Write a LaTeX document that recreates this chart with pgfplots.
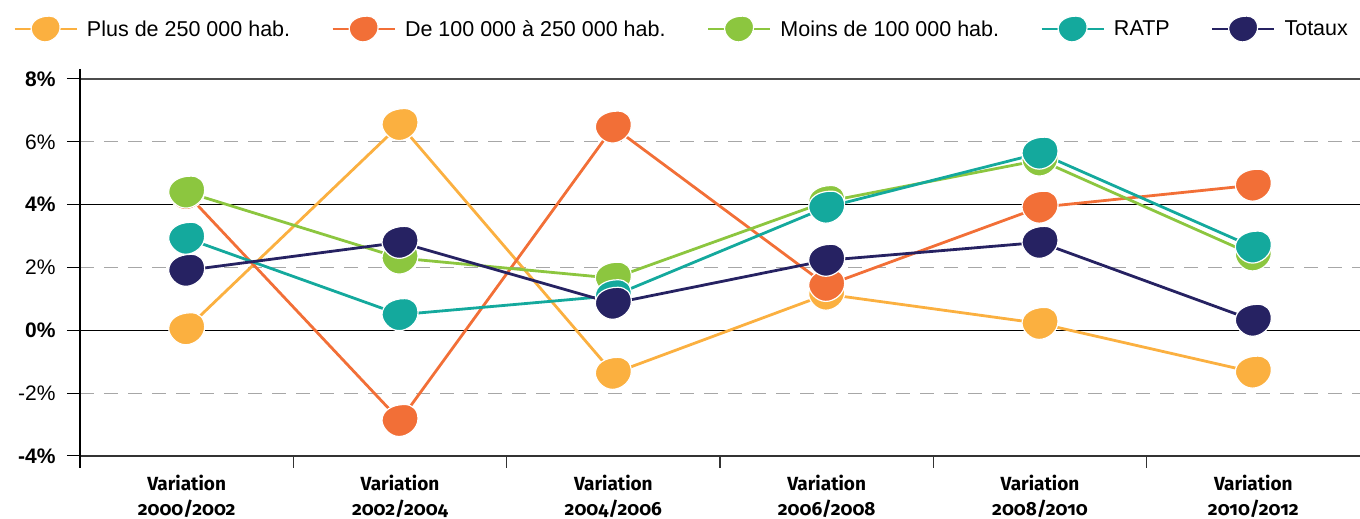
\documentclass[border=0pt]{standalone}
\usepackage{fontspec}
\setmainfont{Liberation Sans}
\newfontfamily\xfont{Fira Sans}[Numbers=OldStyle]
\usepackage{pgfplots}
\pgfplotsset{compat=1.18}

\definecolor{cyel}{HTML}{FBB040}
\definecolor{cora}{HTML}{F26F37}
\definecolor{cgre}{HTML}{8CC63F}
\definecolor{ctea}{HTML}{14A99D}
\definecolor{cnav}{HTML}{262262}
\definecolor{cgrid}{HTML}{A7A7A7}

\pgfdeclareplotmark{leaf}{%
  \pgfpathmoveto{\pgfqpoint{-1\pgfplotmarksize}{0\pgfplotmarksize}}%
  \pgfpathcurveto{\pgfqpoint{-1\pgfplotmarksize}{0.55\pgfplotmarksize}}{\pgfqpoint{-0.45\pgfplotmarksize}{0.89\pgfplotmarksize}}{\pgfqpoint{0.25\pgfplotmarksize}{0.89\pgfplotmarksize}}%
  \pgfpathcurveto{\pgfqpoint{0.7\pgfplotmarksize}{0.89\pgfplotmarksize}}{\pgfqpoint{1\pgfplotmarksize}{0.6\pgfplotmarksize}}{\pgfqpoint{1\pgfplotmarksize}{0.1\pgfplotmarksize}}%
  \pgfpathcurveto{\pgfqpoint{1\pgfplotmarksize}{-0.45\pgfplotmarksize}}{\pgfqpoint{0.45\pgfplotmarksize}{-0.89\pgfplotmarksize}}{\pgfqpoint{-0.05\pgfplotmarksize}{-0.89\pgfplotmarksize}}%
  \pgfpathcurveto{\pgfqpoint{-0.6\pgfplotmarksize}{-0.89\pgfplotmarksize}}{\pgfqpoint{-1\pgfplotmarksize}{-0.35\pgfplotmarksize}}{\pgfqpoint{-1\pgfplotmarksize}{0\pgfplotmarksize}}%
  \pgfpathclose
  \pgfusepathqfillstroke
}

\begin{document}
\begin{tikzpicture}
\begin{axis}[
  name=ax,
  scale only axis,
  width=1280pt, height=377pt,
  xmin=-0.5, xmax=5.5,
  ymin=-4, ymax=8,
  clip=false,
  axis line style={draw=none},
  xtick={0,...,5},
  xticklabels={{Variation\\2000/2002},{Variation\\2002/2004},{Variation\\2004/2006},{Variation\\2006/2008},{Variation\\2008/2010},{Variation\\2010/2012}},
  xticklabel style={align=center, font=\xfont\bfseries\fontsize{19}{24.5}\selectfont, yshift=-3pt},
  xtick style={draw=none},
  ytick={-4,-2,0,2,4,6,8},
  yticklabels={\textbf{-4\%},-2\%,\textbf{0\%},2\%,\textbf{4\%},6\%,\textbf{8\%}},
  yticklabel style={font=\fontsize{21}{24}\selectfont, xshift=-8pt},
  ytick pos=left,
  tick align=outside,
  major tick length=13pt,
  ytick style={black, line width=1pt},
  every axis plot/.append style={line width=2.8pt, mark=leaf, mark size=18pt},
  legend columns=5,
  legend style={draw=none, fill=none, at={(axis description cs:0,1)}, anchor=west, xshift=-70pt, yshift=50pt,
    font=\fontsize{21.5}{24}\selectfont,
    /tikz/every odd column/.append style={column sep=7pt},
    /tikz/every even column/.append style={column sep=39pt}},
  legend image code/.code={\draw[mark repeat=2, mark phase=2, #1, mark size=14.5pt] plot coordinates {(0pt,0pt) (31pt,0pt) (62pt,0pt)};},
]
% grid lines
\draw[cgrid, line width=1.3pt, dash pattern=on 14pt off 10pt] (axis cs:-0.5,6) -- (axis cs:5.5,6);
\draw[cgrid, line width=1.3pt, dash pattern=on 14pt off 10pt] (axis cs:-0.5,2) -- (axis cs:5.5,2);
\draw[cgrid, line width=1.3pt, dash pattern=on 14pt off 10pt] (axis cs:-0.5,-2) -- (axis cs:5.5,-2);
\draw[black!70, line width=1.2pt] (axis cs:-0.5,8) -- (axis cs:5.5,8);
\draw[black, line width=1.2pt] (axis cs:-0.5,4) -- (axis cs:5.5,4);
\draw[black, line width=1.2pt] (axis cs:-0.5,0) -- (axis cs:5.5,0);
\draw[black!80, line width=1.2pt] (axis cs:-0.5,-4) -- (axis cs:5.5,-4);
\draw[black, line width=1.2pt] ([yshift=10pt]axis cs:-0.5,8) -- ([yshift=-12pt]axis cs:-0.5,-4);
\draw[black!80, line width=1.2pt] (axis cs:0.5,-4) -- ([yshift=-12pt]axis cs:0.5,-4);
\draw[black!80, line width=1.2pt] (axis cs:1.5,-4) -- ([yshift=-12pt]axis cs:1.5,-4);
\draw[black!80, line width=1.2pt] (axis cs:2.5,-4) -- ([yshift=-12pt]axis cs:2.5,-4);
\draw[black!80, line width=1.2pt] (axis cs:3.5,-4) -- ([yshift=-12pt]axis cs:3.5,-4);
\draw[black!80, line width=1.2pt] (axis cs:4.5,-4) -- ([yshift=-12pt]axis cs:4.5,-4);

\addplot[color=cyel, mark options={fill=cyel, draw=white, line width=1.2pt}] coordinates {(0,0.05) (1,6.55) (2,-1.37) (3,1.15) (4,0.22) (5,-1.33)};
\addlegendentry{Plus de 250 000 hab.}
\addplot[color=cora, mark options={fill=cora, draw=white, line width=1.2pt}] coordinates {(0,4.35) (1,-2.87) (2,6.47) (3,1.43) (4,3.92) (5,4.62)};
\addlegendentry{De 100 000 à 250 000 hab.}
\addplot[color=cgre, mark options={fill=cgre, draw=white, line width=1.2pt}] coordinates {(0,4.4) (1,2.3) (2,1.66) (3,4.1) (4,5.42) (5,2.4)};
\addlegendentry{Moins de 100 000 hab.}
\addplot[color=ctea, mark options={fill=ctea, draw=white, line width=1.2pt}] coordinates {(0,2.93) (1,0.5) (2,1.1) (3,3.92) (4,5.64) (5,2.65)};
\addlegendentry{RATP}
\addplot[color=cnav, mark options={fill=cnav, draw=white, line width=1.2pt}] coordinates {(0,1.91) (1,2.8) (2,0.86) (3,2.23) (4,2.8) (5,0.32)};
\addlegendentry{Totaux}
\end{axis}
\pgfresetboundingbox
\path ([xshift=-80pt,yshift=79pt]ax.north west) rectangle ([yshift=-63pt]ax.south east);
\end{tikzpicture}
\end{document}
